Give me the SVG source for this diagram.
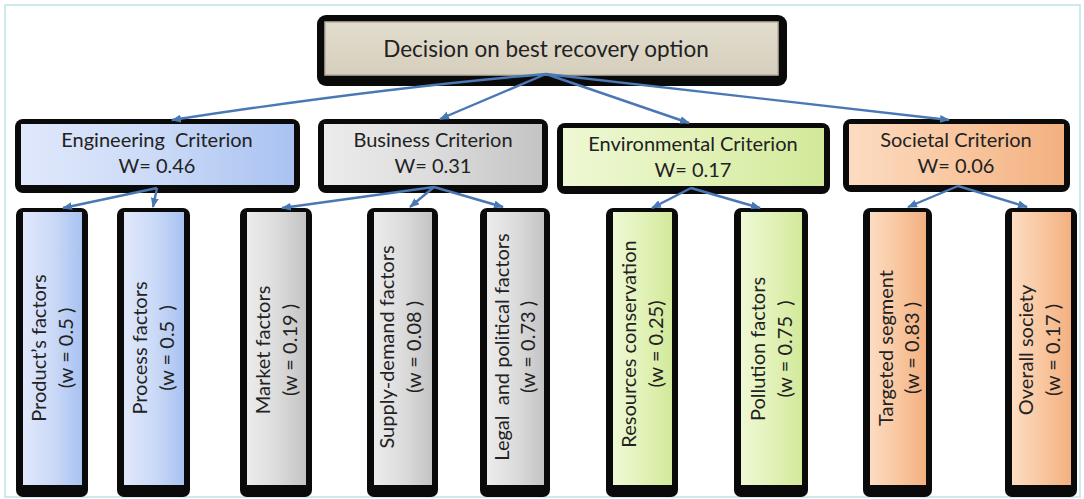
<svg xmlns="http://www.w3.org/2000/svg" width="1084" height="499" viewBox="0 0 1084 499">
<defs>
<style>
.frame{fill:#ffffff;stroke:#bfe3e6;stroke-width:1.5}
.shell{fill:#0a0a0a}
.t{font-family:Lato,"Liberation Sans",sans-serif;fill:#222;text-anchor:middle;white-space:pre}
.top{font-size:22.5px}
.crit{font-size:20px}
.leaf{font-size:20px}
.conn{fill:none;stroke:#4a78b4;stroke-width:2.4}
</style>
<linearGradient id="gBlue" x1="0" y1="0" x2="1" y2="0">
<stop offset="0" stop-color="#e0e8fb"/><stop offset="0.5" stop-color="#cbdaf7"/><stop offset="1" stop-color="#a9c2f1"/>
</linearGradient>
<linearGradient id="gGrey" x1="0" y1="0" x2="1" y2="0">
<stop offset="0" stop-color="#ececec"/><stop offset="0.5" stop-color="#dcdcdc"/><stop offset="1" stop-color="#c4c4c4"/>
</linearGradient>
<linearGradient id="gGreen" x1="0" y1="0" x2="1" y2="0">
<stop offset="0" stop-color="#eef8d4"/><stop offset="0.5" stop-color="#e2f2b8"/><stop offset="1" stop-color="#d2e99a"/>
</linearGradient>
<linearGradient id="gOrange" x1="0" y1="0" x2="1" y2="0">
<stop offset="0" stop-color="#fcdcc2"/><stop offset="0.5" stop-color="#f9c7a0"/><stop offset="1" stop-color="#f3b080"/>
</linearGradient>
<linearGradient id="gTan" x1="0" y1="0" x2="0" y2="1">
<stop offset="0" stop-color="#e2dccd"/><stop offset="1" stop-color="#d6cfbd"/>
</linearGradient>
<marker id="arr" markerWidth="10" markerHeight="8" refX="9" refY="4" orient="auto" markerUnits="userSpaceOnUse">
<path d="M0,0 L10,4 L0,8 z" fill="#4a78b4"/>
</marker>
</defs>

<rect class="frame" x="5" y="5" width="1075" height="492"/>

<g id="node-root">
<rect class="shell" x="317" y="15" width="470" height="71" rx="9"/>
<rect x="325" y="22" width="453" height="53" fill="url(#gTan)" stroke="#b8b2a4" stroke-width="1.5"/>
<text class="t top" x="546" y="57">Decision on best recovery option</text>
</g>

<g id="node-engineering">
<rect class="shell" x="15" y="119" width="285" height="74" rx="8"/>
<rect x="21" y="124" width="273" height="61" fill="url(#gBlue)"/>
<text class="t crit" x="157" y="147">Engineering  Criterion</text>
<text class="t crit" x="157" y="173">W= 0.46</text>
</g>
<g id="node-business">
<rect class="shell" x="318" y="119" width="230" height="74" rx="8"/>
<rect x="324" y="124" width="218" height="61" fill="url(#gGrey)"/>
<text class="t crit" x="433" y="147">Business Criterion</text>
<text class="t crit" x="433" y="173">W= 0.31</text>
</g>
<g id="node-environmental">
<rect class="shell" x="557" y="123" width="273" height="71" rx="8"/>
<rect x="563" y="128" width="261" height="58" fill="url(#gGreen)"/>
<text class="t crit" x="693" y="151">Environmental Criterion</text>
<text class="t crit" x="693" y="177">W= 0.17</text>
</g>
<g id="node-societal">
<rect class="shell" x="843" y="119" width="227" height="73" rx="8"/>
<rect x="849" y="124" width="215" height="61" fill="url(#gOrange)"/>
<text class="t crit" x="956" y="147">Societal Criterion</text>
<text class="t crit" x="956" y="173">W= 0.06</text>
</g>

<g id="node-product">
<rect class="shell" x="16" y="208" width="72" height="289" rx="7"/>
<rect x="23" y="212" width="59" height="273" fill="url(#gBlue)"/>
<g transform="translate(52,348) rotate(-90)"><text class="t leaf" x="0" y="-6">Product’s factors</text><text class="t leaf" x="0" y="21">(w = 0.5 )</text></g>
</g>
<g id="node-process">
<rect class="shell" x="117" y="208" width="73" height="289" rx="7"/>
<rect x="124" y="212" width="60" height="273" fill="url(#gBlue)"/>
<g transform="translate(153,348) rotate(-90)"><text class="t leaf" x="0" y="-6">Process factors</text><text class="t leaf" x="0" y="21">(w = 0.5  )</text></g>
</g>
<g id="node-market">
<rect class="shell" x="240" y="208" width="72" height="289" rx="7"/>
<rect x="247" y="212" width="59" height="273" fill="url(#gGrey)"/>
<g transform="translate(276,350) rotate(-90)"><text class="t leaf" x="0" y="-6">Market factors</text><text class="t leaf" x="0" y="21">(w = 0.19 )</text></g>
</g>
<g id="node-supply">
<rect class="shell" x="367" y="208" width="71" height="289" rx="7"/>
<rect x="374" y="212" width="58" height="273" fill="url(#gGrey)"/>
<g transform="translate(402,347) rotate(-90)"><text class="t leaf" x="0" y="-8">Supply-demand factors</text><text class="t leaf" x="0" y="19">(w = 0.08 )</text></g>
</g>
<g id="node-legal">
<rect class="shell" x="480" y="208" width="70" height="289" rx="7"/>
<rect x="487" y="212" width="57" height="273" fill="url(#gGrey)"/>
<g transform="translate(515,347) rotate(-90)"><text class="t leaf" x="0" y="-6">Legal  and political factors</text><text class="t leaf" x="0" y="20">(w = 0.73 )</text></g>
</g>
<g id="node-resources">
<rect class="shell" x="606" y="208" width="72" height="289" rx="7"/>
<rect x="613" y="212" width="59" height="273" fill="url(#gGreen)"/>
<g transform="translate(642,344) rotate(-90)"><text class="t leaf" x="0" y="-6">Resources conservation</text><text class="t leaf" x="0" y="21">(w = 0.25)</text></g>
</g>
<g id="node-pollution">
<rect class="shell" x="734" y="208" width="74" height="289" rx="7"/>
<rect x="741" y="212" width="61" height="273" fill="url(#gGreen)"/>
<g transform="translate(771,349) rotate(-90)"><text class="t leaf" x="0" y="-6">Pollution factors</text><text class="t leaf" x="0" y="21">(w = 0.75  )</text></g>
</g>
<g id="node-targeted">
<rect class="shell" x="863" y="208" width="69" height="289" rx="7"/>
<rect x="870" y="212" width="56" height="273" fill="url(#gOrange)"/>
<g transform="translate(897,348) rotate(-90)"><text class="t leaf" x="0" y="-4">Targeted segment</text><text class="t leaf" x="0" y="22">(w = 0.83 )</text></g>
</g>
<g id="node-overall">
<rect class="shell" x="1005" y="208" width="72" height="289" rx="7"/>
<rect x="1012" y="212" width="59" height="273" fill="url(#gOrange)"/>
<g transform="translate(1041,350) rotate(-90)"><text class="t leaf" x="0" y="-8">Overall society</text><text class="t leaf" x="0" y="19">(w = 0.17 )</text></g>
</g>

<g id="connectors">
<path class="conn" d="M546,74 Q380,88 172,120" marker-end="url(#arr)"/>
<path class="conn" d="M546,74 L440,119" marker-end="url(#arr)"/>
<path class="conn" d="M546,74 L689,123" marker-end="url(#arr)"/>
<path class="conn" d="M546,74 L949,120" marker-end="url(#arr)"/>
<path class="conn" d="M157,188 L63,208" marker-end="url(#arr)"/>
<path class="conn" d="M157,188 L153,207" marker-end="url(#arr)"/>
<path class="conn" d="M434,187 L282,208" marker-end="url(#arr)"/>
<path class="conn" d="M434,187 L410,207" marker-end="url(#arr)"/>
<path class="conn" d="M434,187 L503,207" marker-end="url(#arr)"/>
<path class="conn" d="M691,188 L652,208" marker-end="url(#arr)"/>
<path class="conn" d="M691,188 L760,208" marker-end="url(#arr)"/>
<path class="conn" d="M958,186 L908,207" marker-end="url(#arr)"/>
<path class="conn" d="M958,186 L1027,207" marker-end="url(#arr)"/>
</g>
</svg>
